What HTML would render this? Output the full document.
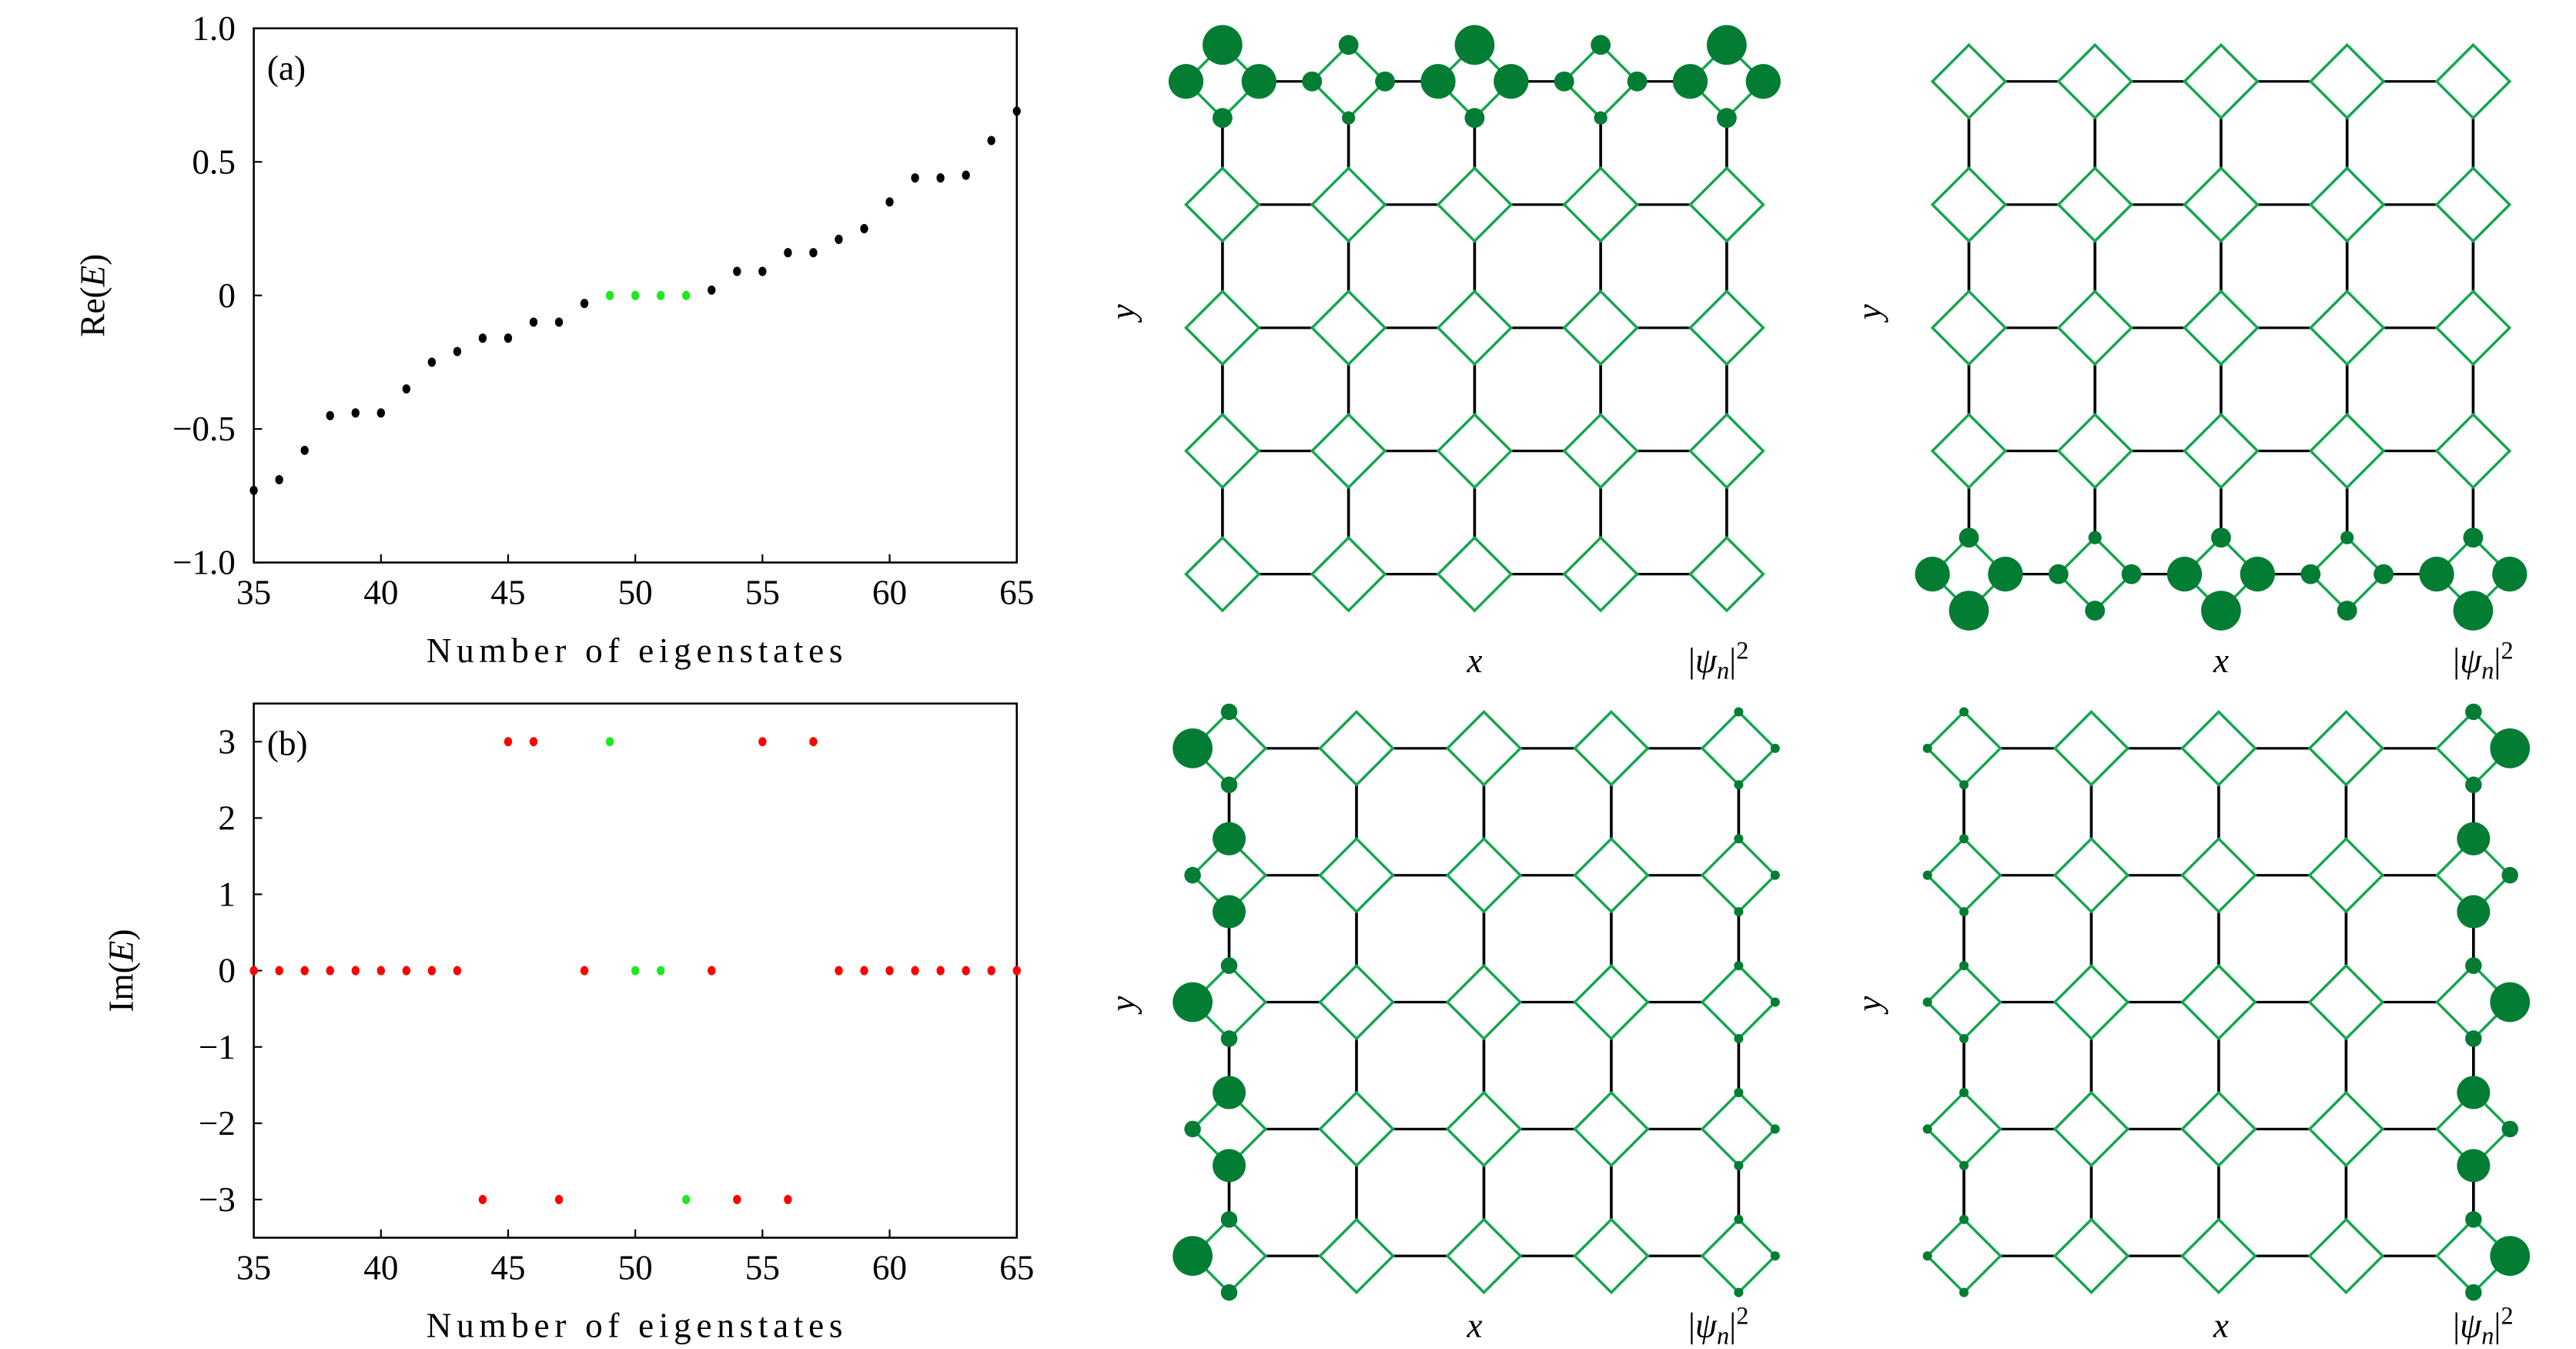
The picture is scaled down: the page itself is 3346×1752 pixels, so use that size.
<!DOCTYPE html>
<html><head><meta charset="utf-8"><style>
html,body{margin:0;padding:0;background:#fff}
svg{display:block}
text{font-family:"Liberation Serif","DejaVu Serif",serif;fill:#000}
</style></head><body>
<svg id="fig" width="3346" height="1752" viewBox="0 0 1553 813" xmlns="http://www.w3.org/2000/svg">
<g id="pa"></g>
<g id="pb"></g>
<g id="lat"></g>
</svg>
<script>
const states = [35,36,37,38,39,40,41,42,43,44,45,46,47,48,49,50,51,52,53,54,55,56,57,58,59,60,61,62,63,64,65];
const reE = [-0.73,-0.69,-0.58,-0.45,-0.44,-0.44,-0.35,-0.25,-0.21,-0.16,-0.16,-0.10,-0.10,-0.03,0,0,0,0,0.02,0.09,0.09,0.16,0.16,0.21,0.25,0.35,0.44,0.44,0.45,0.58,0.69];
const imE = [0,0,0,0,0,0,0,0,0,-3,3,3,-3,0,3,0,0,-3,0,-3,3,-3,3,0,0,0,0,0,0,0,0];
const zeroModes = [49,50,51,52];
const xTicks = [35,40,45,50,55,60,65];
const yTicksA = [-1.0,-0.5,0,0.5,1.0];
const yTickLabelsA = ["\u22121.0","\u22120.5","0","0.5","1.0"];
const yTicksB = [-3,-2,-1,0,1,2,3];
const yTickLabelsB = ["\u22123","\u22122","\u22121","0","1","2","3"];

const NS="http://www.w3.org/2000/svg";
function el(tag, attrs, parent){const e=document.createElementNS(NS,tag);for(const k in attrs)e.setAttribute(k,attrs[k]);parent.appendChild(e);return e;}

function drawPanel(g, top, bottom, ymin, ymax, ticks, tlabels, values, colorFn, ytitle, tag){
  const L=153,R=613;
  const sx=v=>L+(v-35)/(65-35)*(R-L);
  const sy=v=>bottom-(v-ymin)/(ymax-ymin)*(bottom-top);
  const frame=el('rect',{x:L,y:top,width:R-L,height:bottom-top,fill:'none',stroke:'#000','stroke-width':1.2},g);
  
  
  xTicks.forEach(t=>{
    const ln=el('line',{x1:sx(t),x2:sx(t),y1:bottom,y2:bottom-5,stroke:'#000','stroke-width':1},g);
    
    
    const tx=el('text',{x:sx(t),y:bottom+25,'font-size':21,'text-anchor':'middle'},g);
    tx.textContent=t;
    
    
  });
  ticks.forEach((t,i)=>{
    const ln=el('line',{x1:L,x2:L+5,y1:sy(t),y2:sy(t),stroke:'#000','stroke-width':1},g);
    
    
    const tx=el('text',{x:L-11,y:sy(t)+7,'font-size':21,'text-anchor':'end'},g);
    tx.textContent=tlabels[i];
    
    
  });
  const xt=el('text',{x:257,y:bottom+60,'font-size':21,textLength:251,lengthAdjust:'spacing'},g);
  xt.textContent='Number of eigenstates';
  
  
  const yt=el('text',{transform:`translate(${tag==='(a)'?63:80},${(top+bottom)/2}) rotate(-90)`,'font-size':21,'text-anchor':'middle'},g);
  yt.innerHTML=ytitle+'(<tspan font-style="italic">E</tspan>)';
  
  
  const lb=el('text',{x:161,y:top+31,'font-size':21},g);
  lb.textContent=tag;
  
  
  states.forEach((s,i)=>{
    const c=el('ellipse',{cx:sx(s),cy:sy(values[i]),rx:2.4,ry:2.8,fill:colorFn(s)},g);
    
    
  });
}
drawPanel(document.getElementById('pa'),17,339,-1,1,yTicksA,yTickLabelsA,reE,s=>zeroModes.includes(s)?'#1ee81e':'#000','Re','(a)');
drawPanel(document.getElementById('pb'),424,746,-3.5,3.5,yTicksB,yTickLabelsB,imE,s=>zeroModes.includes(s)?'#1ee81e':'#f00','Im','(b)');

const lat=document.getElementById('lat');
const DG='#027d33', LG='#14a550';
function lattice(x0,dx,y0,dy,radFn,ylab,xlab,psil){
  const g=el('g',{},lat);
  
  
  const h=22;
  for(let j=0;j<5;j++)for(let i=0;i<5;i++){
    const cx=x0+i*dx, cy=y0+j*dy;
    if(i<4){const l=el('line',{x1:cx+h,x2:cx+dx-h,y1:cy,y2:cy,stroke:'#000','stroke-width':1.5},g);
      
      }
    if(j<4){const l=el('line',{x1:cx,x2:cx,y1:cy+h,y2:cy+dy-h,stroke:'#000','stroke-width':1.7},g);
      
      }
    const d=el('polygon',{points:`${cx},${cy-h} ${cx+h},${cy} ${cx},${cy+h} ${cx-h},${cy}`,fill:'none',stroke:LG,'stroke-width':1.6},g);
    
    
  }
  for(let j=0;j<5;j++)for(let i=0;i<5;i++){
    const cx=x0+i*dx, cy=y0+j*dy;
    const r=radFn(i,j);
    const pos=[[cx,cy-h],[cx+h,cy],[cx,cy+h],[cx-h,cy]];
    r.forEach((rr,k)=>{ if(rr>0){const c=el('circle',{cx:pos[k][0],cy:pos[k][1],r:rr,fill:DG},g);
      
      }});
  }
  const yl=el('text',{transform:`translate(${ylab[0]},${ylab[1]}) rotate(-90)`,'font-size':21,'font-style':'italic','text-anchor':'middle'},g);
  yl.textContent='y';
  
  
  const xl=el('text',{x:xlab[0],y:xlab[1],'font-size':21,'font-style':'italic','text-anchor':'middle'},g);
  xl.textContent='x';
  
  
  const pl=el('text',{x:psil[0],y:psil[1],'font-size':21,'text-anchor':'middle'},g);
  pl.innerHTML='|<tspan font-style="italic">ψ</tspan><tspan font-style="italic" font-size="15" dy="4">n</tspan><tspan dy="-4">|</tspan><tspan font-size="15" dy="-8">2</tspan>';
  
  
}
const topEdge=(i,j)=> j!==0?[0,0,0,0]:(i%2===0?[12,10.5,6,10.5]:[6,6,4,6]);
const botEdge=(i,j)=> j!==4?[0,0,0,0]:(i%2===0?[6,10.5,12,10.5]:[4,6,6,6]);
const leftEdge=(i,j)=> i===0?(j%2===0?[5,0,5,12]:[10,0,10,5]):(i===4?[2.8,2.8,2.8,0]:[0,0,0,0]);
const rightEdge=(i,j)=> i===4?(j%2===0?[5,12,5,0]:[10,5,10,0]):(i===0?[2.8,0,2.8,2.8]:[0,0,0,0]);
lattice(737,76,49,74.25,topEdge,[684,188],[889,405],[1036,405]);
lattice(1187,76,49,74.25,botEdge,[1134,188],[1339,405],[1497,405]);
lattice(741,76.8,451,76.5,leftEdge,[684,605],[889,806],[1036,806]);
lattice(1184,76.8,451,76.5,rightEdge,[1134,605],[1339,806],[1497,806]);
</script>
</body></html>
